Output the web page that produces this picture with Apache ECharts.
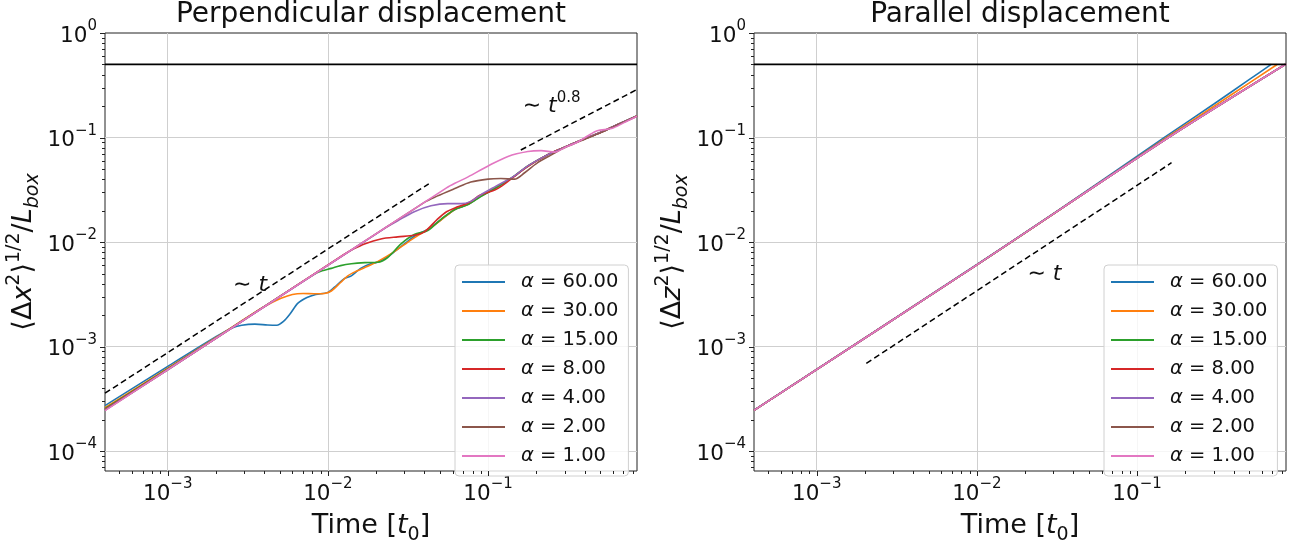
<!DOCTYPE html>
<html><head><meta charset="utf-8">
<script src="https://cdn.jsdelivr.net/npm/echarts@6/dist/echarts.min.js"></script>
<style>html,body{margin:0;padding:0;background:#fff}#c{width:1292px;height:550px}</style>
</head><body><div id="c"></div>
<script>
// ---------- data ----------
const xRange = [4.06e-4, 0.85];
const yRange = [6.45e-5, 1];
const boxLevel = 0.5;
const seriesNames = ['α = 60.00','α = 30.00','α = 15.00','α = 8.00','α = 4.00','α = 2.00','α = 1.00'];
const seriesColors = ['#1f77b4','#ff7f0e','#2ca02c','#d62728','#9467bd','#8c564b','#e377c2'];
const majorTickValuesX = [1e-3, 1e-2, 1e-1];
const majorTickValuesY = [1e-4, 1e-3, 1e-2, 1e-1, 1];
const minorMultipliers = [2,3,4,5,6,7,8,9];
const minorDecades = [1e-5, 1e-4, 1e-3, 1e-2, 1e-1];

// Perpendicular displacement  [t, <dx^2>^1/2 / L]
const perp60 = [[4.06e-4,2.72e-4],[1.0e-3,6.45e-4],[2.0e-3,1.24e-3],[2.5e-3,1.5e-3],[2.9e-3,1.6e-3],[3.5e-3,1.64e-3],[4.2e-3,1.61e-3],[4.8e-3,1.6e-3],[5.3e-3,1.75e-3],[5.8e-3,2.05e-3],[6.5e-3,2.6e-3],[7.4e-3,2.95e-3],[8.4e-3,3.15e-3],[1.0e-2,3.3e-3],[1.1e-2,3.7e-3],[1.26e-2,4.45e-3],[1.4e-2,4.75e-3],[1.6e-2,5.6e-3],[1.85e-2,6.2e-3],[2.1e-2,6.5e-3],[2.5e-2,7.7e-3],[3.0e-2,9.6e-3],[3.6e-2,1.18e-2],[4.2e-2,1.32e-2],[5.1e-2,1.64e-2],[6.2e-2,2.05e-2],[7.5e-2,2.3e-2],[9.0e-2,2.75e-2],[0.11,3.25e-2],[0.133,3.9e-2],[0.15,4.4e-2],[0.18,5.4e-2],[0.236,6.86e-2],[0.29,7.9e-2],[0.38,9.4e-2],[0.51,0.113],[0.65,0.134],[0.85,0.162]];
const perp30 = [[4.06e-4,2.6e-4],[1.0e-3,6.2e-4],[2.0e-3,1.22e-3],[3.8e-3,2.3e-3],[4.4e-3,2.6e-3],[5.1e-3,2.9e-3],[6.0e-3,3.15e-3],[7.0e-3,3.22e-3],[8.2e-3,3.2e-3],[9.5e-3,3.22e-3],[1.05e-2,3.4e-3],[1.2e-2,4.1e-3],[1.33e-2,4.75e-3],[1.5e-2,5.25e-3],[1.7e-2,5.7e-3],[2.04e-2,6.5e-3],[2.6e-2,8.1e-3],[3.16e-2,1.0e-2],[3.8e-2,1.2e-2],[4.4e-2,1.38e-2],[5.1e-2,1.63e-2],[6.2e-2,2.05e-2],[7.5e-2,2.3e-2],[9.0e-2,2.75e-2],[0.11,3.25e-2],[0.133,3.9e-2],[0.15,4.4e-2],[0.18,5.4e-2],[0.236,6.86e-2],[0.29,7.9e-2],[0.38,9.4e-2],[0.51,0.113],[0.65,0.134],[0.85,0.161]];
const perp15 = [[4.06e-4,2.55e-4],[1.0e-3,6.1e-4],[2.0e-3,1.21e-3],[8.2e-3,4.9e-3],[9.2e-3,5.3e-3],[1.05e-2,5.6e-3],[1.2e-2,5.95e-3],[1.4e-2,6.2e-3],[1.7e-2,6.35e-3],[2.04e-2,6.4e-3],[2.36e-2,7.1e-3],[2.86e-2,9.6e-3],[3.46e-2,1.18e-2],[4.2e-2,1.29e-2],[5.1e-2,1.66e-2],[6.2e-2,2.05e-2],[7.5e-2,2.28e-2],[9.0e-2,2.72e-2],[0.11,3.25e-2],[0.133,3.9e-2],[0.146,4.3e-2],[0.177,5.35e-2],[0.236,6.86e-2],[0.29,7.9e-2],[0.38,9.4e-2],[0.51,0.113],[0.65,0.134],[0.85,0.161]];
const perp8 = [[4.06e-4,2.5e-4],[1.0e-3,6.05e-4],[2.0e-3,1.2e-3],[1.26e-2,7.6e-3],[1.45e-2,8.6e-3],[1.69e-2,9.6e-3],[2.14e-2,1.07e-2],[2.73e-2,1.12e-2],[3.46e-2,1.16e-2],[4.0e-2,1.25e-2],[4.8e-2,1.64e-2],[5.5e-2,1.95e-2],[6.2e-2,2.12e-2],[7.5e-2,2.36e-2],[9.0e-2,2.83e-2],[0.11,3.14e-2],[0.122,3.45e-2],[0.133,3.8e-2],[0.146,4.25e-2],[0.177,5.3e-2],[0.236,6.86e-2],[0.29,7.9e-2],[0.38,9.4e-2],[0.51,0.113],[0.65,0.134],[0.85,0.161]];
const perp4 = [[4.06e-4,2.48e-4],[1.0e-3,6.0e-4],[2.14e-2,1.28e-2],[2.4e-2,1.43e-2],[2.73e-2,1.6e-2],[3.46e-2,1.95e-2],[4.4e-2,2.22e-2],[5.6e-2,2.33e-2],[6.8e-2,2.33e-2],[7.8e-2,2.45e-2],[9.0e-2,2.83e-2],[0.11,3.37e-2],[0.133,3.95e-2],[0.146,4.3e-2],[0.177,5.35e-2],[0.236,6.86e-2],[0.29,7.9e-2],[0.38,9.4e-2],[0.51,0.113],[0.65,0.134],[0.85,0.16]];
const perp2 = [[4.06e-4,2.46e-4],[1.0e-3,6.0e-4],[4.0e-2,2.4e-2],[4.8e-2,2.75e-2],[6.2e-2,3.25e-2],[7.8e-2,3.75e-2],[0.1,4.0e-2],[0.12,4.05e-2],[0.146,4.0e-2],[0.169,4.6e-2],[0.204,5.75e-2],[0.25,6.86e-2],[0.29,7.8e-2],[0.38,9.3e-2],[0.51,0.112],[0.65,0.133],[0.85,0.16]];
const perp1 = [[4.06e-4,2.44e-4],[1.0e-3,6.0e-4],[5.5e-2,3.3e-2],[6.2e-2,3.65e-2],[7.5e-2,4.2e-2],[0.1,5.35e-2],[0.133,6.6e-2],[0.177,7.35e-2],[0.214,7.5e-2],[0.26,7.25e-2],[0.3,8.0e-2],[0.36,9.0e-2],[0.42,0.104],[0.48,0.116],[0.59,0.122],[0.7,0.138],[0.85,0.16]];

// Parallel displacement  [t, <dz^2>^1/2 / L]
const par60 = [[4.06e-4,2.46e-4],[1.0e-2,6.1e-3],[3.0e-2,1.87e-2],[0.148,0.1],[0.3,0.208],[0.5,0.358],[0.687,0.5]];
const par30 = [[4.06e-4,2.45e-4],[1.0e-2,6.05e-3],[3.0e-2,1.85e-2],[0.153,0.1],[0.4,0.265],[0.748,0.5]];
const par15 = [[4.06e-4,2.45e-4],[1.0e-2,6.05e-3],[0.156,0.1],[0.84,0.5]];
const par8 = [[4.06e-4,2.45e-4],[1.0e-2,6.05e-3],[0.157,0.1],[0.85,0.505]];
const par4 = [[4.06e-4,2.45e-4],[1.0e-2,6.05e-3],[0.157,0.1],[0.85,0.505]];
const par2 = [[4.06e-4,2.45e-4],[1.0e-2,6.05e-3],[0.157,0.1],[0.85,0.505]];
const par1 = [[4.06e-4,2.45e-4],[1.0e-2,6.05e-3],[0.157,0.1],[0.85,0.505]];

// reference power laws
const perpGuideT = [[4.06e-4,3.58e-4],[4.26e-2,3.61e-2]];
const perpGuideT08 = [[0.16,0.076],[0.85,0.288]];
const parGuideT = [[2.04e-3,6.9e-4],[0.164,5.74e-2]];
// annotation anchors
const perpLabelT = [3.27e-3, 3.85e-3];
const perpLabelT08 = [0.249, 0.2];
const parLabelT = [2.64e-2, 4.9e-3];

const perpData = [perp60, perp30, perp15, perp8, perp4, perp2, perp1];
const parData = [par60, par30, par15, par8, par4, par2, par1];

// ---------- chart ----------
const FONT = 'DejaVu Sans';
const INK = '#111';
const chart = echarts.init(document.getElementById('c'), null, {renderer: 'canvas'});

function powLabel(v) {
  const e = Math.log10(v), r = Math.round(e);
  if (Math.abs(e - r) > 1e-6) return '';
  return '{b|10}{s|' + (r < 0 ? '\u2212' + (-r) : String(r)) + '}';
}
const tickRich = {
  b: {fontFamily: FONT, fontSize: 21.5, lineHeight: 28, verticalAlign: 'bottom', color: INK},
  s: {fontFamily: FONT, fontSize: 15, lineHeight: 15, verticalAlign: 'top', color: INK}
};
const nameRich = {
  n: {fontFamily: FONT, fontSize: 27, lineHeight: 38, verticalAlign: 'middle', color: INK},
  i: {fontFamily: FONT, fontSize: 27, lineHeight: 38, verticalAlign: 'middle', fontStyle: 'italic', color: INK},
  sp: {fontFamily: FONT, fontSize: 19, lineHeight: 19, verticalAlign: 'top', color: INK},
  sb: {fontFamily: FONT, fontSize: 19, lineHeight: 19, verticalAlign: 'bottom', fontStyle: 'italic', color: INK},
  sbu: {fontFamily: FONT, fontSize: 19, lineHeight: 19, verticalAlign: 'bottom', color: INK}
};

function minorList(lo, hi) {
  const out = [];
  minorDecades.forEach(d => minorMultipliers.forEach(m => { const v = d * m; if (v > lo && v < hi) out.push(v); }));
  return out;
}
const minorX = minorList(xRange[0], xRange[1]);
const minorY = minorList(yRange[0], yRange[1]);

function tickSeries(gi) {
  const data = [];
  majorTickValuesX.forEach(v => data.push([v, yRange[0], 5, 0]));
  minorX.forEach(v => data.push([v, yRange[0], 3, 0]));
  majorTickValuesY.forEach(v => data.push([xRange[0], v, 5, 1]));
  minorY.forEach(v => data.push([xRange[0], v, 3, 1]));
  return {
    type: 'custom', xAxisIndex: gi, yAxisIndex: gi, silent: true, clip: false, z: 5,
    encode: {x: 0, y: 1}, data: data, animation: false,
    renderItem: function (params, api) {
      const p = api.coord([api.value(0), api.value(1)]);
      const len = api.value(2), o = api.value(3);
      const shape = o === 0
        ? {x1: Math.round(p[0]) + 0.5, y1: p[1], x2: Math.round(p[0]) + 0.5, y2: p[1] + len}
        : {x1: p[0] - len, y1: Math.round(p[1]) + 0.5, x2: p[0], y2: Math.round(p[1]) + 0.5};
      return {type: 'line', shape: shape, style: {stroke: '#222', lineWidth: 1}};
    }
  };
}

const grids = [
  {left: 105, top: 33, width: 532, height: 449},
  {left: 754, top: 33, width: 532, height: 449}
].map(g => Object.assign(g, {show: true, borderColor: '#222', borderWidth: 1, backgroundColor: 'transparent'}));

function xAxisFor(gi) {
  return {
    type: 'log', logBase: 10, gridIndex: gi, min: xRange[0], max: xRange[1],
    axisLine: {show: false}, axisTick: {show: false},
    axisLabel: {formatter: powLabel, rich: tickRich, margin: 6, showMinLabel: false, showMaxLabel: false},
    splitLine: {show: true, showMinLine: false, showMaxLine: false, lineStyle: {color: '#cfcfcf', width: 1}},
    name: '{n|Time [}{i|t}{sbu|0}{n|]}', nameLocation: 'middle', nameGap: 36,
    nameTextStyle: {rich: nameRich}
  };
}
function yAxisFor(gi, v) {
  return {
    type: 'log', logBase: 10, gridIndex: gi, min: yRange[0], max: yRange[1],
    axisLine: {show: false}, axisTick: {show: false},
    axisLabel: {formatter: powLabel, rich: tickRich, margin: 8, showMinLabel: false, showMaxLabel: true},
    splitLine: {show: true, showMinLine: false, showMaxLine: false, lineStyle: {color: '#cfcfcf', width: 1}},
    name: '{n|\u27E8\u0394}{i|' + v + '}{sp|2}{n|\u27E9}{sp|1/2}{n|/}{i|L}{sb|box}',
    nameLocation: 'middle', nameGap: 62, nameTextStyle: {rich: nameRich}
  };
}

function curveSeries(gi, dataList) {
  return dataList.map((d, k) => ({
    type: 'line', name: seriesNames[k], xAxisIndex: gi, yAxisIndex: gi, data: d,
    showSymbol: false, symbol: 'none', smooth: 0.3, color: seriesColors[k],
    lineStyle: {width: 1.6, color: seriesColors[k]}, emphasis: {disabled: true}, z: 3
  }));
}
function annotation(coord, text) {
  return {
    symbol: 'circle', symbolSize: 1, itemStyle: {color: 'rgba(0,0,0,0)'}, silent: true,
    label: {show: true, position: 'inside', formatter: text, rich: {
      n: {fontFamily: FONT, fontSize: 22, lineHeight: 30, verticalAlign: 'middle', color: INK},
      i: {fontFamily: FONT, fontSize: 22, lineHeight: 30, verticalAlign: 'middle', fontStyle: 'italic', color: INK},
      sp: {fontFamily: FONT, fontSize: 15, lineHeight: 15, verticalAlign: 'top', color: INK}
    }},
    data: [{coord: coord}]
  };
}
function guideSeries(gi, d, mark) {
  return {
    type: 'line', name: 'guide', xAxisIndex: gi, yAxisIndex: gi, data: d, symbol: 'none',
    lineStyle: {color: '#000', width: 1.5, type: [6, 3.5]}, emphasis: {disabled: true}, z: 4,
    markPoint: mark
  };
}
function boxSeries(gi) {
  return {
    type: 'line', name: 'box', xAxisIndex: gi, yAxisIndex: gi,
    data: [[xRange[0], boxLevel], [xRange[1], boxLevel]], symbol: 'none',
    lineStyle: {color: '#000', width: 1.7}, emphasis: {disabled: true}, z: 4
  };
}

const legendRich = {
  a: {fontFamily: FONT, fontSize: 19.5, lineHeight: 22, fontStyle: 'italic', color: INK, padding: [0, 0, 0, 11]},
  n: {fontFamily: FONT, fontSize: 19.5, lineHeight: 22, color: INK}
};
function legendFor(left) {
  return {
    data: seriesNames, orient: 'vertical', left: left, top: 265,
    icon: 'rect', itemWidth: 43, itemHeight: 2, itemGap: 9, padding: [7, 10, 10, 7],
    backgroundColor: 'rgba(255,255,255,0.8)', borderColor: '#d0d0d0', borderWidth: 1, borderRadius: 4,
    textStyle: {fontFamily: FONT, fontSize: 19.5, color: INK, rich: legendRich},
    formatter: name => '{a|α}{n|' + name.slice(1) + '}',
    selectedMode: false
  };
}

const option = {
  animation: false,
  backgroundColor: '#fff',
  textStyle: {fontFamily: FONT},
  title: [
    {text: 'Perpendicular displacement', left: 371, top: 1, textAlign: 'center', padding: 0,
     textStyle: {fontFamily: FONT, fontSize: 28, fontWeight: 'normal', color: INK}},
    {text: 'Parallel displacement', left: 1020, top: 1, textAlign: 'center', padding: 0,
     textStyle: {fontFamily: FONT, fontSize: 28, fontWeight: 'normal', color: INK}}
  ],
  grid: grids,
  xAxis: [xAxisFor(0), xAxisFor(1)],
  yAxis: [yAxisFor(0, 'x'), yAxisFor(1, 'z')],
  legend: [legendFor(455), legendFor(1104)],
  series: [].concat(
    [boxSeries(0), boxSeries(1)],
    curveSeries(0, perpData),
    curveSeries(1, parData),
    [guideSeries(0, perpGuideT, annotation(perpLabelT, '{n|\u223C }{i|t}')),
     guideSeries(0, perpGuideT08, annotation(perpLabelT08, '{n|\u223C }{i|t}{sp|0.8}')),
     guideSeries(1, parGuideT, annotation(parLabelT, '{n|\u223C }{i|t}'))],
    [tickSeries(0), tickSeries(1)]
  )
};
chart.setOption(option);
</script></body></html>
